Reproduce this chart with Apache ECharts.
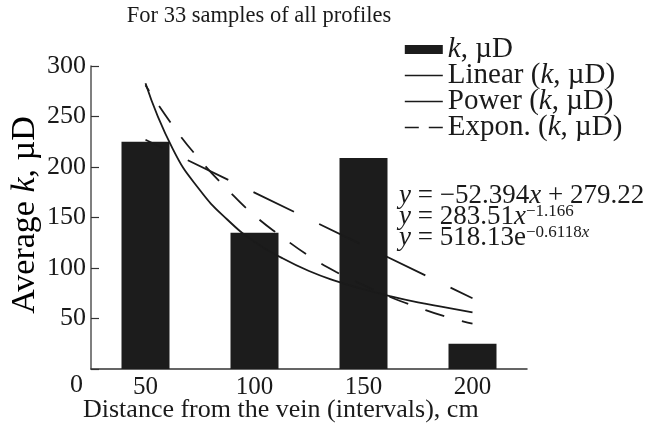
<!DOCTYPE html>
<html>
<head>
<meta charset="utf-8">
<script src="https://cdn.jsdelivr.net/npm/echarts@6/dist/echarts.min.js"></script>
<style>html,body{margin:0;padding:0;background:#fff}#c{width:651px;height:425px}</style>
</head>
<body>
<div id="c"></div>
<script>
const categories = ['50', '100', '150', '200'];
const kValues = [225, 135, 209, 25];
const trendX = [1, 1.25, 1.5, 1.75, 2, 2.25, 2.5, 2.75, 3, 3.25, 3.5, 3.75, 4];
const powerValues = [283, 218, 177, 148, 126, 110, 97, 87, 79, 72, 66, 61, 56];
const exponValues = [281, 241, 207, 178, 152, 131, 112, 96, 83, 71, 61, 52, 45];
const linearX = [1, 4];
const linearValues = [227, 70];
const seriesNames = ['k, µD', 'Linear (k, µD)', 'Power (k, µD)', 'Expon. (k, µD)'];
const equations = [
  '{i|y} = −52.394{i|x} + 279.22',
  '{i|y} = 283.51{i|x}{sup|−1.166}',
  '{i|y} = 518.13e{sup|−0.6118}{supi|x}'
];

const FONT = 'Liberation Serif';
const INK = '#1a1a1a';
const FS = 25;
const font = s => s + 'px "' + FONT + '"';
const italicK = s => s.replace('k', '{i|k}');
const rich = (fs, lh) => ({
  n: { fontFamily: FONT, fontSize: fs, color: INK, lineHeight: lh },
  i: { fontFamily: FONT, fontStyle: 'italic', fontSize: fs, color: INK, lineHeight: lh },
  sup: { fontFamily: FONT, fontSize: Math.round(fs * 0.64), color: INK, verticalAlign: 'top' },
  supi: { fontFamily: FONT, fontSize: Math.round(fs * 0.64), fontStyle: 'italic', color: INK, verticalAlign: 'top' }
});
const pairs = (xs, ys) => xs.map((x, i) => [x, ys[i]]);
const hiddenDot = { opacity: 0 };

const chart = echarts.init(document.getElementById('c'), null, { renderer: 'canvas' });
chart.setOption({
  animation: false,
  backgroundColor: '#fff',
  textStyle: { fontFamily: FONT, color: INK },
  title: {
    text: 'For 33 samples of all profiles',
    left: 254, top: 0, textAlign: 'center',
    textStyle: { fontFamily: FONT, fontSize: 22.5, fontWeight: 'normal', color: INK }
  },
  grid: { left: 91, right: 124, top: 66, bottom: 56 },
  legend: {
    orient: 'vertical', left: 399, top: 30,
    itemWidth: 38, itemHeight: 9, itemGap: -3,
    textStyle: { fontFamily: FONT, fontSize: 29, color: INK, rich: rich(29, 29) },
    formatter: n => italicK(n),
    data: [
      { name: seriesNames[0], icon: 'rect' },
      { name: seriesNames[1], itemStyle: hiddenDot, lineStyle: { type: 'solid', width: 1.6, color: INK } },
      { name: seriesNames[2], itemStyle: hiddenDot, lineStyle: { type: 'solid', width: 1.6, color: INK } },
      { name: seriesNames[3], itemStyle: hiddenDot, lineStyle: { type: [14, 10], dashOffset: 0, width: 1.6, color: INK } }
    ]
  },
  xAxis: [
    {
      type: 'category', data: categories, boundaryGap: true,
      axisLine: { lineStyle: { color: '#333', width: 1.5 } },
      axisTick: { inside: true, length: 10, alignWithLabel: false, lineStyle: { color: '#333', width: 1.2 } },
      axisLabel: { fontFamily: FONT, fontSize: FS, color: INK, margin: 6 }
    },
    { type: 'value', min: 0.5, max: 4.5, show: false }
  ],
  yAxis: {
    type: 'value', min: 0, max: 300, interval: 50,
    axisLine: { show: true, lineStyle: { color: '#555', width: 1.5 } },
    axisTick: { show: true, inside: true, length: 8, lineStyle: { color: '#333', width: 1.2 } },
    splitLine: { show: false },
    axisLabel: { fontFamily: FONT, fontSize: 26, color: INK, margin: 5, formatter: v => v === 0 ? '' : String(v) }
  },
  graphic: [
    { type: 'text', left: 70, top: 372, style: { text: '0', font: font(26), fill: INK } },
    { type: 'text', left: 83, top: 397, style: { text: 'Distance from the vein (intervals), cm', font: font(26), fill: INK } },
    {
      type: 'text', x: 25, y: 215, rotation: Math.PI / 2,
      style: { text: '{n|Average }{i|k}{n|, µD}', align: 'center', verticalAlign: 'middle', rich: rich(34, 36) }
    },
    ...equations.map((t, i) => ({
      type: 'text', left: 399, top: 182 + i * 21,
      style: {
        text: t, font: font(27), fill: INK,
        rich: rich(27, 27)
      }
    }))
  ],
  series: [
    {
      name: seriesNames[0], type: 'bar', data: kValues, barWidth: 48,
      itemStyle: { color: '#1c1c1c' }
    },
    {
      name: seriesNames[1], type: 'line', xAxisIndex: 1, data: pairs(linearX, linearValues),
      symbol: 'none', z: 3, itemStyle: { color: INK },
      lineStyle: { color: INK, width: 1.8, type: [45, 28], dashOffset: 26 }
    },
    {
      name: seriesNames[2], type: 'line', xAxisIndex: 1, data: pairs(trendX, powerValues),
      symbol: 'none', smooth: true, z: 3, itemStyle: { color: INK },
      lineStyle: { color: INK, width: 1.8, type: 'solid' }
    },
    {
      name: seriesNames[3], type: 'line', xAxisIndex: 1, data: pairs(trendX, exponValues),
      symbol: 'none', smooth: true, z: 3, itemStyle: { color: INK },
      lineStyle: { color: INK, width: 1.8, type: [20, 18], dashOffset: 13 }
    }
  ]
});
</script>
</body>
</html>
